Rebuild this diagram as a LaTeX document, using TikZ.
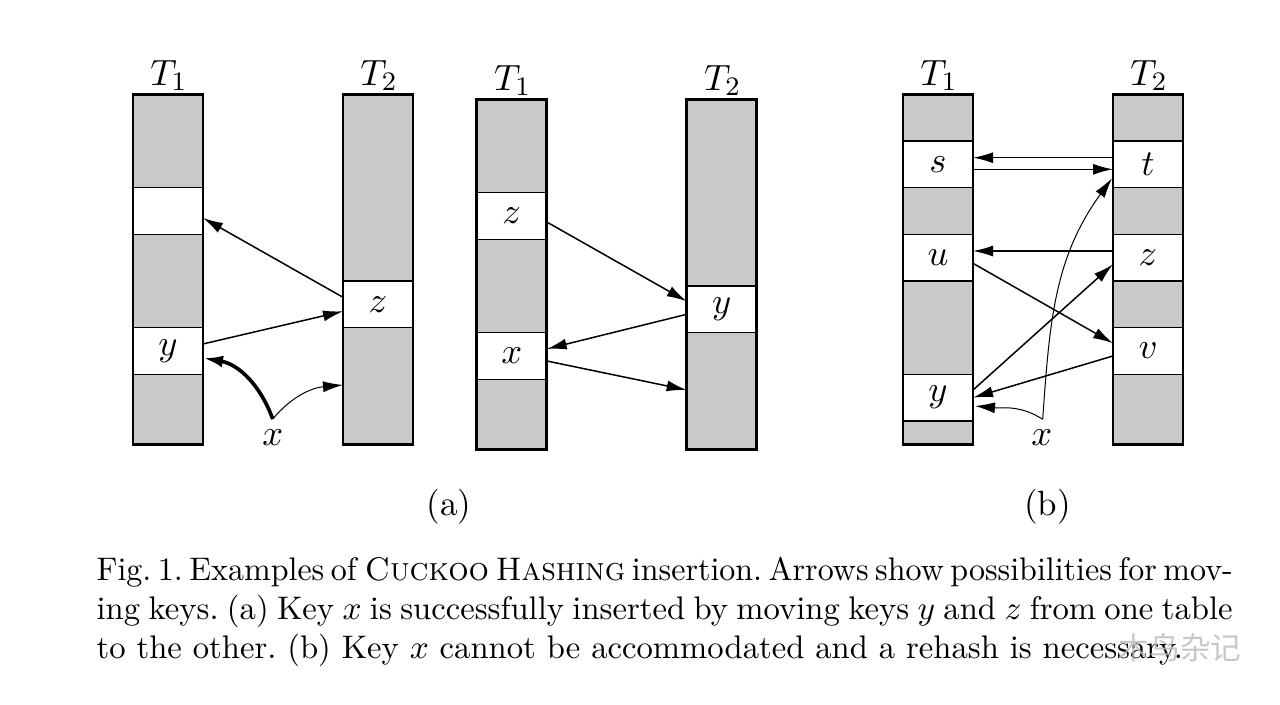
\documentclass[tikz,border=0pt]{standalone}
\usepackage{fontspec}
\newfontfamily\cjk{Noto Sans CJK SC}
\usetikzlibrary{arrows.meta,calc}
\definecolor{cellgray}{RGB}{201,201,201}
\begin{document}
\begin{tikzpicture}[x=0.3pt,y=-0.3pt,
  col/.style={fill=cellgray, minimum width=21pt, minimum height=105pt, inner sep=0pt, outer sep=0pt},
  cell/.style={fill=white, minimum width=21pt, minimum height=14pt, inner sep=0pt, outer sep=0pt, font=\fontsize{10.5}{12}\selectfont},
  tlab/.style={anchor=base, inner sep=0pt, font=\fontsize{11}{13}\selectfont},
  klab/.style={inner sep=0pt, font=\fontsize{10.5}{12}\selectfont},
  sublab/.style={inner sep=0pt, font=\fontsize{10.5}{12}\selectfont},
  div/.style={line width=0.4pt},
  colb/.style={line width=0.75pt},
  conn/.style={line width=0.45pt, -{Latex[length=6pt,width=3.3pt]}},
  thinconn/.style={line width=0.3pt, -{Latex[length=6pt,width=3.3pt]}},
  thickconn/.style={line width=1.1pt, -{Latex[length=6pt,width=3.5pt]}}
]
\useasboundingbox (0,0) rectangle (1280,705);

% ---------- columns ----------
\node[col] (A1) at (168,269.3) {};
\node[col] (A2) at (378,269.3) {};
\node[col] (B1) at (511.7,274.3) {};
\node[col] (B2) at (721.7,274.3) {};
\node[col] (C1) at (938,269.3) {};
\node[col] (C2) at (1148,269.3) {};

% ---------- cells ----------
\node[cell] (e1) at ($(A1.north)+(0,116.67)$) {};
\node[cell] (yA) at ($(A1.north)+(0,256.67)$) {$y$};
\node[cell] (zA) at ($(A2.north)+(0,210)$) {$z$};

\node[cell] (zB) at ($(B1.north)+(0,116.67)$) {$z$};
\node[cell] (xB) at ($(B1.north)+(0,256.67)$) {$x$};
\node[cell] (yB) at ($(B2.north)+(0,210)$) {$y$};

\node[cell] (s)  at ($(C1.north)+(0,70)$) {$s$};
\node[cell] (u)  at ($(C1.north)+(0,163.33)$) {$u$};
\node[cell] (yC) at ($(C1.north)+(0,303.33)$) {$y$};
\node[cell] (t)  at ($(C2.north)+(0,70)$) {$t$};
\node[cell] (zC) at ($(C2.north)+(0,163.33)$) {$z$};
\node[cell] (v)  at ($(C2.north)+(0,256.67)$) {$v$};

\foreach \c in {e1,yA,zA,zB,xB,yB,s,u,yC,t,zC,v}{
  \draw[div] (\c.north west) -- (\c.north east) (\c.south west) -- (\c.south east);
}
\foreach \c/\i in {A1/1,A2/2,B1/1,B2/2,C1/1,C2/2}{
  \draw[colb] (\c.north west) rectangle (\c.south east);
  \node[tlab] (\c lab) at ($(\c.north)+(1,-9)$) {$T_{\i}$};
}

% ---------- (a) left ----------
\draw[conn] ($(zA.west)+(0,-7)$) -- ($(e1.east)+(0,7)$);
\draw[conn] ($(yA.east)+(0,-7)$) -- ($(zA.west)+(0,7)$);
\node[klab] (xA) at (272.7,437.5) {$x$};
\coordinate (xAs) at (272.7,419);
\draw[thickconn] (xAs) to[out=110,in=-10] ($(yA.east)+(0,7)$);
\draw[thinconn] (xAs) to[out=50,in=185] (A2.west |- 0,385);

% ---------- (a) middle ----------
\draw[conn] ($(zB.east)+(0,6)$) -- ($(yB.west)+(0,-8)$);
\draw[conn] ($(yB.west)+(0,5)$) -- ($(xB.east)+(0,-7)$);
\draw[conn] ($(xB.east)+(0,5)$) -- (B2.west |- 0,390);

% ---------- (b) ----------
\draw[conn] ($(t.west)+(0,-6.6)$) -- ($(s.east)+(0,-6.6)$);
\draw[conn] ($(s.east)+(0,5)$) -- ($(t.west)+(0,5)$);
\draw[conn] ($(zC.west)+(0,-6.6)$) -- ($(u.east)+(0,-6.6)$);
\draw[conn] ($(u.east)+(0,5.7)$) -- ($(v.west)+(0,-7.7)$);
\draw[conn] ($(yC.east)+(0,-7.6)$) -- ($(zC.west)+(0,6.7)$);
\draw[conn] ($(v.west)+(0,5)$) -- (yC.east);
\node[klab] (xC) at (1041.7,437.5) {$x$};
\coordinate (xCs) at (1042.7,419.3);
\draw[thinconn] (xCs) to[out=86,in=-126] ($(t.west)+(-1,14)$);
\draw[thinconn] (xCs) to[out=147,in=-5] ($(yC.east)+(2,8.4)$);

% ---------- sub labels ----------
\node[sublab] (la) at (449,506.5) {(a)};
\node[sublab] (lb) at (1047.5,506.5) {(b)};

% ---------- caption ----------
\node[anchor=north west, inner sep=0pt, align=left,
      font=\fontsize{9.8}{11.7}\selectfont\frenchspacing] (cap) at (96,556.6)
{\scalebox{0.98}[1]{\spaceskip=0.25em plus 0.2em minus 0.08em\makebox[347.8pt][s]{Fig. 1. Examples of \textsc{Cuckoo Hashing} insertion. Arrows show possibilities for mov-}}\\
\makebox[340.8pt][s]{ing keys. (a) Key $x$ is successfully inserted by moving keys $y$ and $z$ from one table}\\
to the other. (b) Key $x$ cannot be accommodated and a rehash is necessary.};

% ---------- watermark ----------
\node[font=\cjk\fontsize{9.2}{10}\selectfont, text=gray!55, opacity=0.8, inner sep=0pt] (wm) at (1180,648) {木鸟杂记};
\end{tikzpicture}
\end{document}
